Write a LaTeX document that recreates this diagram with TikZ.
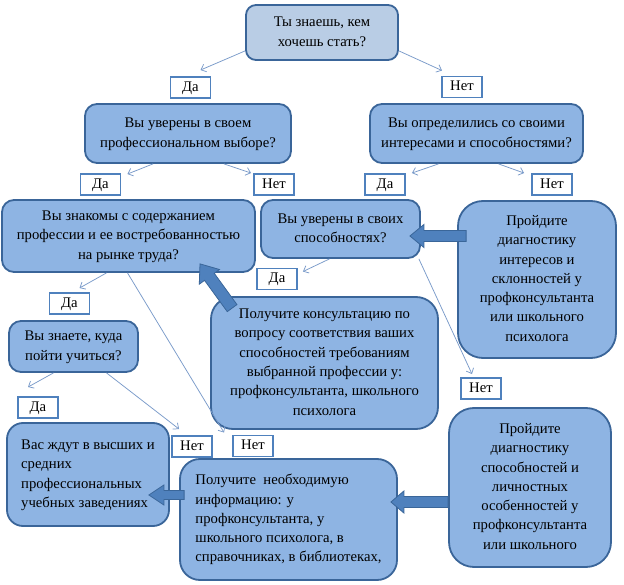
\documentclass[tikz,border=0pt]{standalone}
\usepackage{fontspec}
\usepackage{graphicx}
\setmainfont{Liberation Serif}
\usetikzlibrary{calc,arrows.meta}
\definecolor{boxfill}{HTML}{8EB4E3}
\definecolor{topfill}{HTML}{B9CDE5}
\definecolor{boxdraw}{HTML}{3A6599}
\definecolor{lbldraw}{HTML}{4F81BD}
\definecolor{conncol}{HTML}{7A9BCA}
\definecolor{arrfill}{HTML}{4F81BD}
\definecolor{arrdraw}{HTML}{3A6699}
\newcommand\tx[2]{\scalebox{1.13}{\fontsize{13}{17.08}\selectfont\begin{tabular}{@{}#1@{}}#2\end{tabular}}}
\newcommand\blockarrow[5]{%
 \path[barrow] let \p1=(#1), \p2=(#2), \n1={atan2(\y2-\y1,\x2-\x1)} in
  ($(\p1)+(\n1+90:#3)$) -- ($(\p2)+(\n1+180:#5)+(\n1+90:#3)$) -- ($(\p2)+(\n1+180:#5)+(\n1+90:#4)$) -- (\p2) -- ($(\p2)+(\n1+180:#5)+(\n1-90:#4)$) -- ($(\p2)+(\n1+180:#5)+(\n1-90:#3)$) -- ($(\p1)+(\n1-90:#3)$) -- cycle;}
\begin{document}
\begin{tikzpicture}[x=1pt,y=-1pt,
  box/.style={draw=boxdraw, fill=boxfill, line width=1.8pt, rounded corners=12pt, text=black, inner sep=0pt},
  lbl/.style={draw=lbldraw, fill=white, line width=1.9pt, minimum width=40pt, minimum height=21pt, inner sep=0pt, text=black},
  conn/.style={draw=conncol, line width=0.75pt, -{Straight Barb[length=4.5pt,width=8pt]}},
  barrow/.style={fill=arrfill, draw=arrdraw, line width=0.8pt, line join=miter}]
\fill[white] (0,0) rectangle (624,585);
\useasboundingbox (0,0) rectangle (624,585);
% boxes
\node[box, fill=topfill, rounded corners=10pt, minimum width=152pt, minimum height=55pt] (Top) at (322,32.5) {\tx{c}{Ты знаешь, кем\\хочешь стать?}};
\node[box, minimum width=206pt, minimum height=59pt] (L1) at (188,133.5) {\tx{c}{Вы уверены в своем\\профессиональном выборе?}};
\node[box, minimum width=213pt, minimum height=59pt] (R1) at (476.5,133.5) {\tx{c}{Вы определились со своими\\интересами и способностями?}};
\node[box, minimum width=253pt, minimum height=72pt] (A) at (128.5,236) {\tx{c}{Вы знакомы с содержанием\\профессии и ее востребованностью\\на рынке труда?}};
\node[box, minimum width=159pt, minimum height=58pt] (B) at (340.5,229) {\tx{c}{Вы уверены в своих\\способностях?}};
\node[box, rounded corners=25pt, minimum width=158pt, minimum height=157pt] (C) at (537,279.5) {\tx{c}{Пройдите\\диагностику\\интересов и\\склонностей у\\профконсультанта\\или школьного\\психолога}};
\node[box, minimum width=129pt, minimum height=51pt] (D) at (73.5,346.5) {\tx{c}{Вы знаете, куда\\пойти учиться?}};
\node[box, rounded corners=22pt, minimum width=227pt, minimum height=132pt] (E) at (324.5,363) {\tx{c}{Получите консультацию по\\вопросу соответствия ваших\\способностей требованиям\\выбранной профессии у:\\профконсультанта, школьного\\психолога}};
\node[box, rounded corners=16pt, minimum width=162pt, minimum height=103pt] (F) at (88,474.5) {\tx{l}{Вас ждут в высших и\\средних\\профессиональных\\учебных заведениях}};
\node[box, rounded corners=20pt, minimum width=217pt, minimum height=121pt] (G) at (288.5,519.5) {\tx{l}{Получите\ \ необходимую\\информацию: у\\профконсультанта, у\\школьного психолога, в\\справочниках, в библиотеках,}};
\node[box, rounded corners=25pt, minimum width=162pt, minimum height=159pt] (H) at (530,487.5) {\tx{c}{Пройдите\\диагностику\\способностей и\\личностных\\особенностей у\\профконсультанта\\или школьного}};
% labels
\node[lbl] (Da1) at (190.5,87.5) {\tx{c}{Да}};
\node[lbl] (Net1) at (462,87) {\tx{c}{Нет}};
\node[lbl] (Da2) at (100.5,184.5) {\tx{c}{Да}};
\node[lbl] (Net2) at (274,184.5) {\tx{c}{Нет}};
\node[lbl] (Da3) at (385,184.5) {\tx{c}{Да}};
\node[lbl] (Net3) at (552,184.5) {\tx{c}{Нет}};
\node[lbl] (DaB) at (277,279) {\tx{c}{Да}};
\node[lbl] (DaA) at (69.5,303.5) {\tx{c}{Да}};
\node[lbl] (NetB) at (481,388.5) {\tx{c}{Нет}};
\node[lbl] (DaD) at (38,407.5) {\tx{c}{Да}};
\node[lbl] (NetD) at (192,446.5) {\tx{c}{Нет}};
\node[lbl] (NetA) at (253,446) {\tx{c}{Нет}};
% thin connectors
\draw[conn] ([yshift=10pt]Top.south west) -- ([xshift=10pt,yshift=6pt]Da1.north);
\draw[conn] ([yshift=10pt]Top.south east) -- ([xshift=-20pt,yshift=5pt]Net1.north);
\draw[conn] ([xshift=-35pt]L1.south) -- ([xshift=6pt,yshift=-1pt]Da2.north east);
\draw[conn] ([xshift=36pt]L1.south) -- ([xshift=-2pt]Net2.north west);
\draw[conn] ([xshift=-38pt]R1.south) -- ([xshift=6pt]Da3.north east);
\draw[conn] ([xshift=22pt]R1.south) -- ([xshift=-7pt]Net3.north west);
\draw[conn] ([xshift=-22pt]A.south) -- ([xshift=10pt,yshift=4pt]DaA.north);
\draw[conn] ([xshift=-1pt]A.south) -- ([xshift=-8pt,yshift=2pt]NetA.north west);
\draw[conn] ([xshift=-11pt]B.south) -- ([xshift=5pt,yshift=-4pt]DaB.north east);
\draw[conn] ([xshift=-2pt]B.south east) -- ([xshift=-9pt,yshift=3pt]NetB.north);
\draw[conn] ([xshift=-20pt]D.south) -- ([xshift=-10pt,yshift=9pt]DaD.north);
\draw[conn] ([xshift=33pt]D.south) -- ([xshift=8pt,yshift=6pt]NetD.north west);
% block arrows
\blockarrow{[xshift=9pt,yshift=43.5pt]C.west}{[xshift=-11pt,yshift=-7pt]B.east}{5.5pt}{11.5pt}{14pt}
\blockarrow{[xshift=22pt,yshift=-12pt]E.north west}{[xshift=71.5pt,yshift=9pt]A.south}{6pt}{12.5pt}{16pt}
\blockarrow{[xshift=5pt,yshift=24.5pt]G.west}{[xshift=-21pt,yshift=-20.5pt]F.east}{4.5pt}{10pt}{15pt}
\blockarrow{[yshift=-14.5pt]H.west}{[xshift=-7pt,yshift=17.5pt]G.east}{5.5pt}{11pt}{13pt}
\end{tikzpicture}
\end{document}
